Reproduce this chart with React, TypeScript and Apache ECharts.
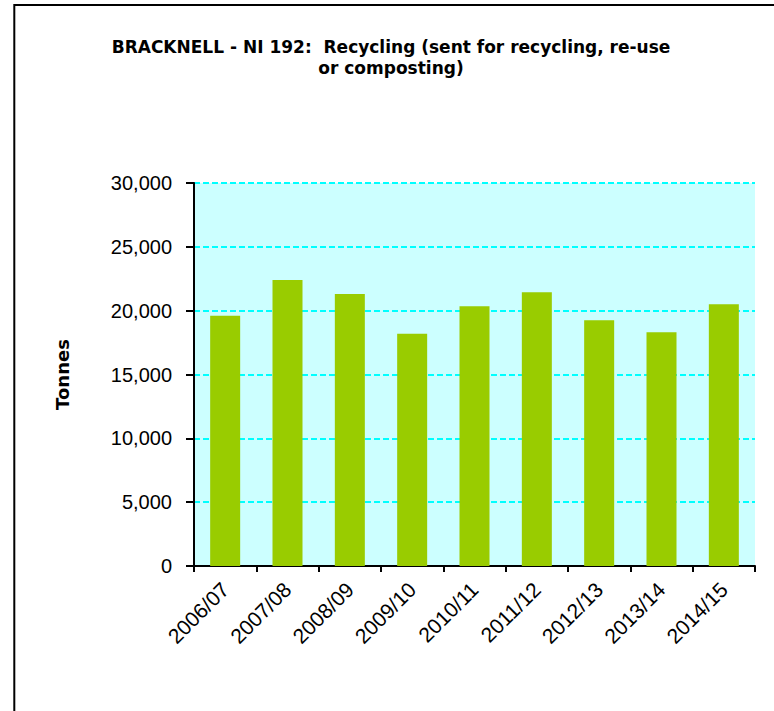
import React, { useEffect, useRef } from "react";
import * as echarts from "echarts";

const categories = ["2006/07", "2007/08", "2008/09", "2009/10", "2010/11", "2011/12", "2012/13", "2013/14", "2014/15"];
const tonnes = [19600, 22400, 21300, 18200, 20350, 21450, 19250, 18300, 20500];
const titleText = "BRACKNELL - NI 192:  Recycling (sent for recycling, re-use\nor composting)";
const yAxisName = "Tonnes";

export default function App() {
  const ref = useRef<HTMLDivElement>(null);
  useEffect(() => {
    if (!ref.current) return;
    const chart = echarts.init(ref.current, null, { renderer: "svg" });
    chart.setOption({
      animation: false,
      backgroundColor: "#ffffff",
      title: {
        text: titleText,
        left: 386,
        top: 31,
        textAlign: "center",
        textStyle: {
          fontFamily: "DejaVu Sans",
          fontWeight: "bold",
          fontSize: 17,
          lineHeight: 21,
          color: "#000000",
        },
      },
      graphic: [
        {
          type: "rect",
          shape: { x: 14.3, y: 5, width: 900, height: 900 },
          style: { fill: "none", stroke: "#000000", lineWidth: 2 },
          silent: true,
        },
      ],
      grid: {
        left: 194,
        top: 183,
        right: 19,
        bottom: 145,
        show: true,
        backgroundColor: "#CCFFFF",
        borderWidth: 0,
      },
      xAxis: {
        type: "category",
        data: categories,
        boundaryGap: true,
        axisLine: { show: true, lineStyle: { color: "#000000", width: 2 } },
        axisTick: { show: true, alignWithLabel: false, length: 6, lineStyle: { color: "#000000", width: 2 } },
        axisLabel: {
          rotate: 45,
          margin: 20,
          interval: 0,
          fontFamily: "Liberation Sans",
          fontSize: 21,
          color: "#000000",
        },
        splitLine: { show: false },
      },
      yAxis: {
        type: "value",
        min: 0,
        max: 30000,
        interval: 5000,
        name: yAxisName,
        nameLocation: "middle",
        nameGap: 123,
        nameTextStyle: {
          fontFamily: "DejaVu Sans",
          fontWeight: "bold",
          fontSize: 18,
          color: "#000000",
        },
        axisLine: { show: true, lineStyle: { color: "#000000", width: 2 } },
        axisTick: { show: true, length: 8, lineStyle: { color: "#000000", width: 2 } },
        axisLabel: {
          margin: 22,
          fontFamily: "Liberation Sans",
          fontSize: 20,
          color: "#000000",
          formatter: (v: number) => v.toLocaleString("en-US"),
        },
        splitLine: {
          show: true,
          lineStyle: { color: "#00FFFF", width: 2, type: [6, 3] },
        },
      },
      series: [
        {
          type: "bar",
          data: tonnes,
          barWidth: 30,
          itemStyle: { color: "#99CC00" },
        },
      ],
    });
    return () => chart.dispose();
  }, []);
  return <div ref={ref} style={{ position: "absolute", left: 0, top: 0, width: 774, height: 711 }} />;
}
